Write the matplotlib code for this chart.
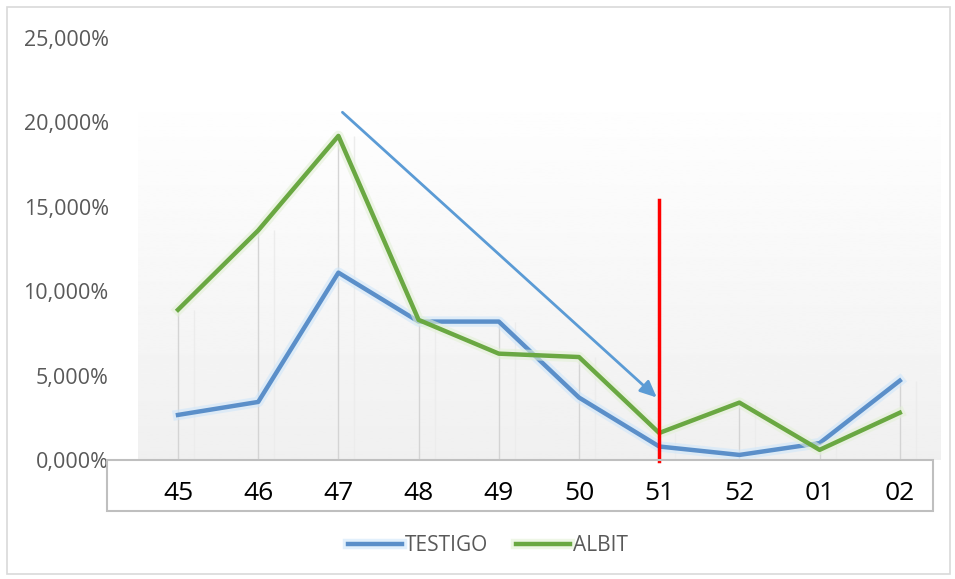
import numpy as np
import matplotlib
matplotlib.use('Agg')
import matplotlib.pyplot as plt
from matplotlib.patches import Rectangle
from matplotlib.ticker import FuncFormatter
import matplotlib.patheffects as pe

plt.rcParams['font.family'] = ['Open Sans', 'DejaVu Sans']

#Data
weeks = ['45', '46', '47', '48', '49', '50', '51', '52', '01', '02']
testigo = [0.0267, 0.0344, 0.111, 0.082, 0.082, 0.037, 0.008, 0.003, 0.010, 0.047]
albit = [0.089, 0.136, 0.192, 0.083, 0.063, 0.061, 0.016, 0.034, 0.006, 0.028]
#annotation: arrow and red marker
arrow_start = (2.05, 0.206)
arrow_end = (5.97, 0.037)
red_week = '51'
red_top = 0.154

x = np.arange(len(weeks))

fig = plt.figure(figsize=(9.55, 5.79), dpi=100)
ax = fig.add_axes([137.9/955, 1-460/579, 802/955, 422/579])
ax.set_xlim(-0.5, len(weeks)-0.5)
ax.set_ylim(0, 0.25)

#soft gradient background
grad = np.linspace(0.94, 1.0, 256).reshape(-1, 1)
ax.imshow(grad, cmap='gray', vmin=0, vmax=1, aspect='auto',
          extent=(-0.5, len(weeks)-0.5, 0, 0.22), origin='lower', zorder=0)

#drop lines
top = np.maximum(testigo, albit)
ax.vlines(x, 0, top, color='#d4d4d4', lw=1, zorder=1)
ax.vlines(x+0.2, 0, top, color='#ececec', lw=1, zorder=1)

glow_b = [pe.Stroke(linewidth=7.5, foreground='#cfe6fa', alpha=0.6), pe.Normal()]
glow_g = [pe.Stroke(linewidth=7.5, foreground='#e3f0d6', alpha=0.6), pe.Normal()]
ax.plot(x, testigo, color='#5b8fc9', lw=3.2, label='TESTIGO', zorder=3,
        solid_joinstyle='round', path_effects=glow_b)
ax.plot(x, albit, color='#6aa842', lw=3.2, label='ALBIT', zorder=3,
        solid_joinstyle='round', path_effects=glow_g)

#red vertical line
ri = weeks.index(red_week)
ax.plot([ri, ri], [-0.0005, red_top], color='#ff0000', lw=2.5, zorder=5, clip_on=False)

#arrow
ax.annotate('', xy=arrow_end, xytext=arrow_start,
            arrowprops=dict(arrowstyle='-|>,head_length=1.0,head_width=0.45',
                            color='#5b9bd5', lw=2, shrinkA=0, shrinkB=0), zorder=6)

for s in ax.spines.values():
    s.set_visible(False)
ax.set_yticks(np.arange(0, 0.2501, 0.05))
ax.yaxis.set_major_formatter(FuncFormatter(lambda v, p: f'{v*100:.3f}%'.replace('.', ',')))
ax.tick_params(axis='y', length=0, pad=21, labelsize=15.5, labelcolor='#595959')
ax.set_xticks(x)
ax.set_xticklabels(weeks)
ax.tick_params(axis='x', length=0, pad=15, labelsize=19, labelcolor='black')

#label box under the axis
fig.add_artist(Rectangle((107/955, 1-511/579), 826/955, 51/579, transform=fig.transFigure,
                         fill=False, edgecolor='#bfbfbf', lw=1.5))
#outer chart border
fig.add_artist(Rectangle((7/955, 1-574/579), 943/955, 567/579, transform=fig.transFigure,
                         fill=False, edgecolor='#d9d9d9', lw=1.2))

fig.legend(loc='center', bbox_to_anchor=(0.511, 0.057), ncol=2, frameon=False,
           fontsize=15, labelcolor='#595959', handlelength=2.6, handletextpad=0.15,
           columnspacing=1.3)

fig.savefig('out.png', dpi=100)
